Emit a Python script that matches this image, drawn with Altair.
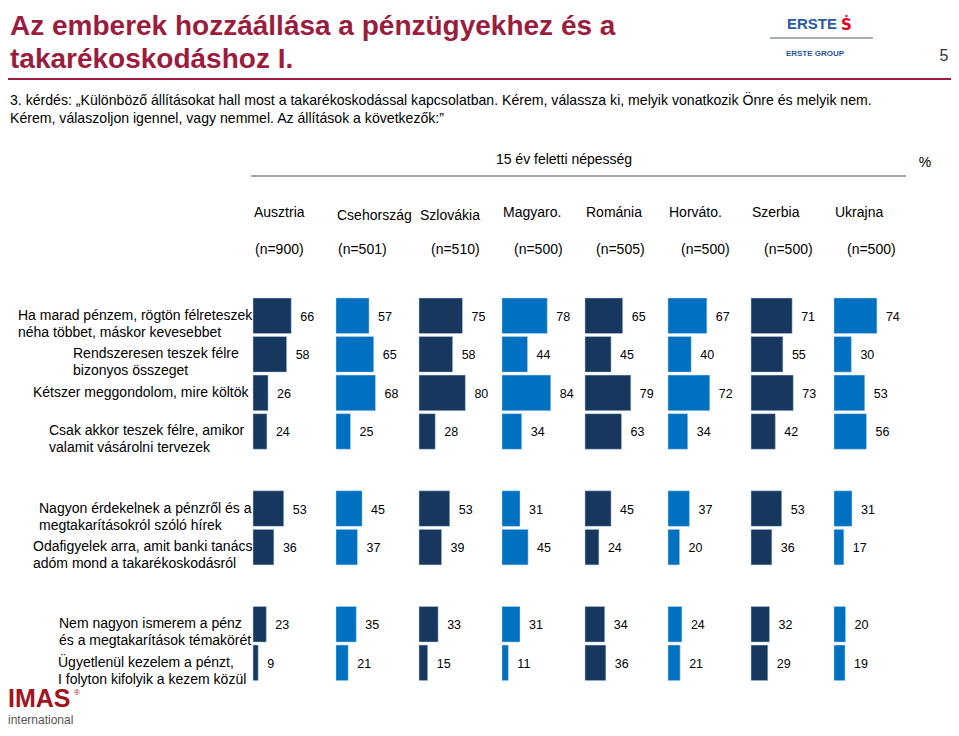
import altair as alt
import pandas as pd

# ---------------- data ----------------
countries = ["Ausztria", "Csehország", "Szlovákia", "Magyaro.", "Románia", "Horváto.", "Szerbia", "Ukrajna"]
sample_sizes = ["(n=900)", "(n=501)", "(n=510)", "(n=500)", "(n=505)", "(n=500)", "(n=500)", "(n=500)"]

statement_keys = ["s1", "s2", "s3", "s4", "s5", "s6", "s7", "s8"]
statement_lines = [
    ["Ha marad pénzem, rögtön félreteszek", "néha többet, máskor kevesebbet"],
    ["Rendszeresen teszek félre", "bizonyos összeget"],
    ["Kétszer meggondolom, mire költök"],
    ["Csak akkor teszek félre, amikor", "valamit vásárolni tervezek"],
    ["Nagyon érdekelnek a pénzről és a", "megtakarításokról szóló hírek"],
    ["Odafigyelek arra, amit banki tanács", "adóm mond a takarékoskodásról"],
    ["Nem nagyon ismerem a pénz", "és a megtakarítások témakörét"],
    ["Ügyetlenül kezelem a pénzt,", "I folyton kifolyik a kezem közül"],
]

v_ha_marad = [66, 57, 75, 78, 65, 67, 71, 74]
v_rendszeresen = [58, 65, 58, 44, 45, 40, 55, 30]
v_ketszer = [26, 68, 80, 84, 79, 72, 73, 53]
v_csak_akkor = [24, 25, 28, 34, 63, 34, 42, 56]
v_nagyon = [53, 45, 53, 31, 45, 37, 53, 31]
v_odafigyelek = [36, 37, 39, 45, 24, 20, 36, 17]
v_nem_nagyon = [23, 35, 33, 31, 34, 24, 32, 20]
v_ugyetlenul = [9, 21, 15, 11, 36, 21, 29, 19]

all_values = [v_ha_marad, v_rendszeresen, v_ketszer, v_csak_akkor,
              v_nagyon, v_odafigyelek, v_nem_nagyon, v_ugyetlenul]

# ---------------- layout / style ----------------
slot_domain = ["s1", "s2", "s3", "s4", "g1", "s5", "s6", "g2", "s7", "s8"]
label_left = [10, 65, 25, 41, 31, 25, 51, 50]
n_nudge = [2, 2, 12, 12, 11, 13, 13, 13]
head_nudge = [0, 3, 3, 0, 0, 0, 0, 0]
DARK = "#17375E"
LIGHT = "#0070C0"
MAROON = "#9B1D3E"
FONT = "Liberation Sans"
PITCH = 143.1  # column pitch in % units

rows = []
for key, vals in zip(statement_keys, all_values):
    for ci, (c, v) in enumerate(zip(countries, vals)):
        rows.append({"key": key, "country": c, "ci": ci, "value": v})
df = pd.DataFrame(rows)

lab_df = pd.DataFrame({"key": statement_keys, "lines": statement_lines, "lx": label_left})
head_df = pd.DataFrame({"country": countries, "n": sample_sizes, "ci": list(range(len(countries))),
                        "nn": n_nudge, "hn": head_nudge})
one = pd.DataFrame({"a": [0]})

xscale = alt.Scale(domain=[-245 / 0.58, (943 - 245) / 0.58], range=[0, 943], zero=False, nice=False)
yscale = alt.Scale(domain=slot_domain, range=[290, 672.6], paddingInner=0.078, paddingOuter=0)
cscale = alt.Scale(domain=countries, range=[DARK, LIGHT] * 4)

base = alt.Chart(df).transform_calculate(
    x0=f"datum.ci * {PITCH}", x1=f"datum.ci * {PITCH} + datum.value"
)

bars = base.mark_bar(stroke="#BDD7EE", strokeWidth=0.5).encode(
    x=alt.X("x0:Q", scale=xscale, axis=None),
    x2="x1:Q",
    y=alt.Y("key:N", scale=yscale, axis=None),
    color=alt.Color("country:N", scale=cscale, legend=None),
)

vals = base.mark_text(align="left", baseline="middle", dx=9, dy=1, fontSize=12.5, font=FONT, color="#000").encode(
    x=alt.X("x1:Q", scale=xscale, axis=None),
    y=alt.Y("key:N", scale=yscale, axis=None),
    text="value:Q",
)

stmt = alt.Chart(lab_df).mark_text(align="left", baseline="middle", fontSize=14, font=FONT,
                                   lineHeight=17, color="#000").encode(
    x=alt.X("lx:Q", scale=None),
    y=alt.Y("key:N", scale=yscale, axis=None),
    text="lines",
)

hbase = alt.Chart(head_df).transform_calculate(
    xh=f"datum.ci * {PITCH} + 1 / 0.58",
    xn=f"datum.ci * {PITCH} + datum.nn / 0.58",
    yh="205 + datum.hn",
)
heads = hbase.mark_text(align="left", baseline="middle", fontSize=14, font=FONT, color="#000").encode(
    x=alt.X("xh:Q", scale=xscale, axis=None),
    y=alt.Y("yh:Q", scale=None),
    text="country:N",
)
nlabs = hbase.mark_text(align="left", baseline="middle", fontSize=14, font=FONT, color="#000").encode(
    x=alt.X("xn:Q", scale=xscale, axis=None),
    y=alt.value(242),
    text="n:N",
)


def txt(s, x, y, size, color="#000", weight="normal", align="left", baseline="alphabetic", font=FONT):
    return alt.Chart(one).mark_text(align=align, baseline=baseline, fontSize=size, fontWeight=weight,
                                    color=color, font=font).encode(
        x=alt.value(x), y=alt.value(y), text=alt.value(s))


def rule(x1, x2, y, color, w):
    return alt.Chart(one).mark_rule(color=color, strokeWidth=w).encode(
        x=alt.value(x1), x2=alt.value(x2), y=alt.value(y))


deco = [
    txt("Az emberek hozzáállása a pénzügyekhez és a", 2, 27, 28, MAROON, "bold"),
    txt("takarékoskodáshoz I.", 2, 60, 28, MAROON, "bold"),
    rule(0, 943, 71, MAROON, 2),
    txt("3. kérdés: „Különböző állításokat hall most a takarékoskodással kapcsolatban. Kérem, válassza ki, melyik vonatkozik Önre és melyik nem.",
        2, 93, 14.1, baseline="middle"),
    txt("Kérem, válaszoljon igennel, vagy nemmel. Az állítások a következők:”", 2, 111, 14.1, baseline="middle"),
    txt("15 év feletti népesség", 556, 152, 14, align="center", baseline="middle"),
    rule(243, 898, 168, "#A6A6A6", 2),
    txt("%", 917, 155, 14, align="center", baseline="middle"),
    txt("5", 936, 48, 16, "#333", align="center", baseline="middle"),
    # ERSTE logo
    txt("ERSTE", 779, 21, 15, "#2A5AA0", "bold"),
    txt("Ṡ", 833, 22, 15, "#E2001A", "bold", font="DejaVu Sans"),
    rule(762, 865, 30, "#A9B0B8", 2),
    txt("ERSTE GROUP", 807, 46, 8, "#2A5AA0", "bold", align="center", baseline="middle"),
    # IMAS logo
    txt("IMAS", 0, 699, 25, "#A0141E", "bold"),
    txt("®", 66, 687, 8, "#A0141E"),
    txt("international", 0, 716, 12, "#555"),
]

chart = alt.layer(bars, vals, stmt, heads, nlabs, *deco).properties(
    width=943, height=720, padding=0, autosize=alt.AutoSizeParams(type="none"),
    background="white",
).configure_view(stroke=None)

chart.save("out.html", embed_options={"renderer": "svg", "actions": False})
